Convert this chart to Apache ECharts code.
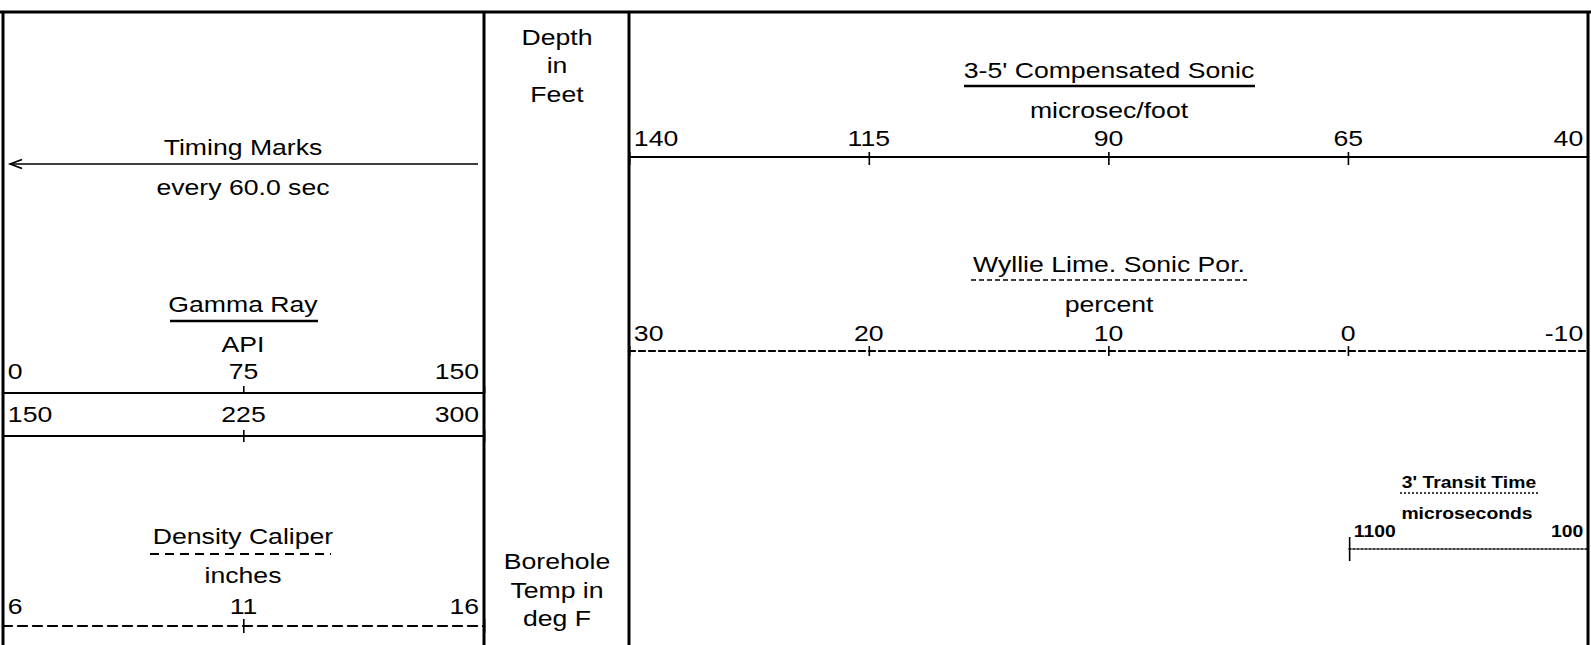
<!DOCTYPE html>
<html>
<head>
<meta charset="utf-8">
<title>Log header</title>
<script src="https://cdn.jsdelivr.net/npm/echarts@6/dist/echarts.min.js"></script>
<style>
    html, body {
        margin: 0;
        padding: 0;
        background: #fff;
        overflow: hidden;
    }
    /* the original print is stretched sideways, so draw narrow and stretch */
    #main {
        width: 1315px;
        height: 645px;
        transform: scaleX(1.2099);
        transform-origin: 0 0;
    }
</style>
</head>
<body>
<div id="main"></div>
<script>
    // scale labels, left to right as printed
    const gammaTicks = [0, 75, 150]
    const gammaBackupTicks = [150, 225, 300]
    const caliperTicks = [6, 11, 16]
    const sonicTicks = [140, 115, 90, 65, 40]
    const porosityTicks = [30, 20, 10, 0, -10]
    const transitTicks = [1100, 100]

    const S = 1591 / 1315
    const X = v => v / S
    const FONT = '"Liberation Sans", Arial, Helvetica, sans-serif'

    // where each scale line sits (page pixels)
    const scales = [
        {ticks: gammaTicks, x0: 3, x1: 484, y: 393, dash: 'solid', width: 2, up: 7, down: 0, margin: 11, size: 22},
        {ticks: gammaBackupTicks, x0: 3, x1: 484, y: 436, dash: 'solid', width: 2, up: 6, down: 6, margin: 11, size: 22},
        {ticks: caliperTicks, x0: 3, x1: 484, y: 626, dash: [9, 6], width: 2, up: 7, down: 7, margin: 9, size: 22},
        {ticks: sonicTicks, x0: 629, x1: 1588, y: 157, dash: 'solid', width: 2, up: 5, down: 8, margin: 8, size: 22},
        {ticks: porosityTicks, x0: 629, x1: 1588, y: 351, dash: [6, 4], width: 2, up: 5, down: 5, margin: 7, size: 22},
        {ticks: transitTicks, x0: 1349, x1: 1588, y: 549, dash: [2, 2], width: 1.5, up: 12, down: 12, margin: 9, size: 16, bold: true}
    ]

    let grids = []
    let xAxes = []
    let yAxes = []
    scales.forEach((sc, i) => {
        let lineType = Array.isArray(sc.dash) ? sc.dash.map(d => d / S) : sc.dash
        grids.push({
            left: X(sc.x0),
            width: X(sc.x1 - sc.x0),
            top: sc.y,
            height: 30,
            outerBoundsMode: 'none'
        })
        yAxes.push({gridIndex: i, show: false, min: 0, max: 1})
        xAxes.push({
            type: 'value',
            gridIndex: i,
            position: 'top',
            min: 0,
            max: sc.ticks.length - 1,
            interval: 1,
            axisLine: {
                show: true,
                onZero: false,
                lineStyle: {color: '#000', width: sc.width, type: lineType}
            },
            axisTick: {
                show: sc.up > 0,
                inside: false,
                length: sc.up,
                lineStyle: {color: '#000', width: 1.6 / S}
            },
            splitLine: {show: false},
            axisLabel: {
                show: true,
                margin: sc.margin,
                color: '#000',
                fontSize: sc.size,
                fontFamily: FONT,
                fontWeight: sc.bold ? 'bold' : 'normal',
                padding: [0, 4, 0, 4],
                alignMinLabel: 'left',
                alignMaxLabel: 'right',
                formatter: v => String(sc.ticks[Math.round(v)])
            }
        })
        // ticks that hang below the line
        xAxes.push({
            type: 'value',
            gridIndex: i,
            position: 'top',
            min: 0,
            max: sc.ticks.length - 1,
            interval: 1,
            axisLine: {show: false, onZero: false},
            axisTick: {
                show: sc.down > 0,
                inside: true,
                length: sc.down,
                lineStyle: {color: '#000', width: 1.6 / S}
            },
            splitLine: {show: false},
            axisLabel: {show: false}
        })
    })

    function txt(text, cx, cy, size, bold) {
        return {
            type: 'text',
            silent: true,
            style: {
                text: text,
                x: X(cx),
                y: cy,
                fill: '#000',
                fontSize: size || 22,
                fontFamily: FONT,
                fontWeight: bold ? 'bold' : 'normal',
                textAlign: 'center',
                textVerticalAlign: 'middle'
            }
        }
    }

    function line(x1, y1, x2, y2, w, dash) {
        return {
            type: 'line',
            silent: true,
            shape: {x1: X(x1), y1: y1, x2: X(x2), y2: y2},
            style: {stroke: '#000', lineWidth: w, lineDash: dash ? dash.map(d => d / S) : null}
        }
    }

    let graphics = [
        // frame
        line(0, 12, 1591, 12, 3),
        line(3, 12, 3, 645, 3 / S),
        line(484, 12, 484, 645, 3 / S),
        line(629, 12, 629, 645, 3 / S),
        line(1588, 12, 1588, 645, 3 / S),

        // timing marks
        txt('Timing Marks', 243, 147),
        line(10, 164, 478, 164, 1.5),
        {
            type: 'polyline',
            silent: true,
            shape: {points: [[X(22), 159.5], [X(10), 164], [X(22), 168.5]]},
            style: {stroke: '#000', lineWidth: 1.5, fill: null}
        },
        txt('every 60.0 sec', 243, 187),

        // gamma ray
        txt('Gamma Ray', 243, 304),
        line(170, 321, 318, 321, 2.5),
        txt('API', 243, 344),

        // density caliper
        txt('Density Caliper', 243, 536),
        line(150, 554, 331, 554, 2, [9, 6]),
        txt('inches', 243, 575),

        // depth track
        txt('Depth', 557, 37),
        txt('in', 557, 65),
        txt('Feet', 557, 94),
        txt('Borehole', 557, 561),
        txt('Temp in', 557, 590),
        txt('deg F', 557, 618),

        // sonic
        txt("3-5' Compensated Sonic", 1109, 70),
        line(964, 86, 1255, 86, 2.5),
        txt('microsec/foot', 1109, 110),

        // porosity
        txt('Wyllie Lime. Sonic Por.', 1109, 264),
        line(971, 280, 1247, 280, 1.5, [5, 3]),
        txt('percent', 1109, 304),

        // transit time
        txt("3' Transit Time", 1469, 483, 16, true),
        line(1400, 493, 1538, 493, 1.5, [2, 2]),
        txt('microseconds', 1467, 514, 16, true)
    ]

    let myChart = echarts.init(document.getElementById('main'), null, {renderer: 'svg'})
    myChart.setOption({
        backgroundColor: '#fff',
        animation: false,
        grid: grids,
        xAxis: xAxes,
        yAxis: yAxes,
        series: [],
        graphic: graphics
    })
</script>
</body>
</html>
